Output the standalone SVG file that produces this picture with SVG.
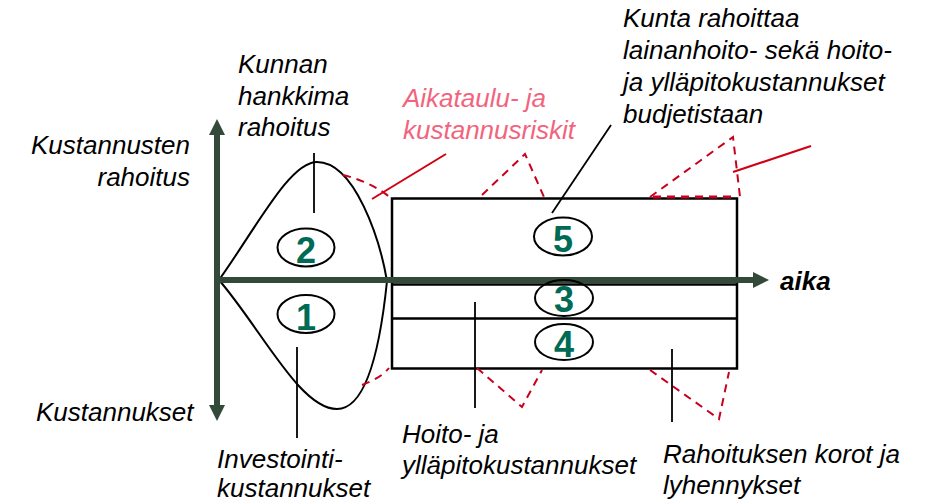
<svg xmlns="http://www.w3.org/2000/svg" width="935" height="503" viewBox="0 0 935 503">
<style>
  .lbl { font-family: "Liberation Sans", Arial, sans-serif; font-style: italic; font-size: 26px; fill: #000; }
  .risk { fill: #F2647D; }
  .num { font-family: "Liberation Sans", Arial, sans-serif; font-weight: bold; font-size: 36px; fill: #006B55; text-anchor: middle; }
  .oval { fill: none; stroke: #000; stroke-width: 2; }
  .axis { stroke: #33493A; stroke-width: 6; fill: none; }
  .edge { stroke: #000; stroke-width: 2.5; fill: none; }
  .lead { stroke: #000; stroke-width: 1.8; fill: none; }
  .dash { stroke: #C8001E; stroke-width: 2; fill: none; stroke-dasharray: 8 6; }
  .rline { stroke: #D00010; stroke-width: 2; fill: none; }
  .lens { stroke: #000; stroke-width: 2; fill: none; }
</style>
<defs>
  <marker id="ah" markerUnits="userSpaceOnUse" markerWidth="16" markerHeight="16" refX="0" refY="8" orient="auto-start-reverse">
    <path d="M0,0 L16,8 L0,16 z" fill="#33493A"/>
  </marker>
</defs>
<rect width="935" height="503" fill="#fff"/>

<g id="lens">
  <path class="lens" d="M219,280 C258,225 290,162 317,162 C355,162 380,240 387,281"/>
  <path class="lens" d="M219,280 C262,330 300,409 337,409 C370,409 382,330 387,281"/>
</g>

<g id="cost-block">
  <rect class="edge" x="392" y="198.5" width="345" height="170"/>
  <line class="edge" x1="392" y1="284.5" x2="737" y2="284.5"/>
  <line class="edge" x1="392" y1="318.5" x2="737" y2="318.5"/>
</g>

<g id="risks">
  <path class="dash" d="M343,175 Q372,182 392,199"/>
  <path class="dash" d="M362,385 Q381,378 389,368"/>
  <path class="dash" d="M482,195 L525,154 L544,197"/>
  <path class="dash" d="M477,368 L522,407 L542,370"/>
  <path class="dash" d="M650,197 L733,137 L740,197"/>
  <path class="dash" d="M653,197 L737,197" style="stroke-width:3"/>
  <path class="dash" d="M650,370 L719,419 L729,372"/>
</g>

<g id="axes">
  <line class="axis" x1="217" y1="135" x2="217" y2="405" marker-start="url(#ah)" marker-end="url(#ah)"/>
  <line class="axis" x1="217" y1="280" x2="753" y2="280" marker-end="url(#ah)"/>
</g>

<g id="node-2"><ellipse class="oval" cx="306" cy="247.5" rx="28.5" ry="19"/><text class="num" x="306" y="262.5">2</text></g>
<g id="node-1"><ellipse class="oval" cx="306" cy="314" rx="28.5" ry="19"/><text class="num" x="306" y="330">1</text></g>
<g id="node-5"><ellipse class="oval" cx="563" cy="236.5" rx="29" ry="19"/><text class="num" x="563" y="251.5">5</text></g>
<g id="node-3"><ellipse class="oval" cx="564" cy="298" rx="29" ry="18"/><text class="num" x="564" y="311.5">3</text></g>
<g id="node-4"><ellipse class="oval" cx="564" cy="342" rx="29" ry="18"/><text class="num" x="564" y="357">4</text></g>

<g id="connectors">
  <line class="lead" x1="314" y1="153" x2="314" y2="213"/>
  <line class="lead" x1="297" y1="347" x2="297" y2="438"/>
  <line class="lead" x1="475" y1="302" x2="475" y2="408"/>
  <line class="lead" x1="552" y1="213" x2="611" y2="125"/>
  <line class="lead" x1="672" y1="349" x2="672" y2="422"/>
  <line class="rline" x1="372" y1="199" x2="446" y2="154"/>
  <line class="rline" x1="733" y1="172" x2="811" y2="146"/>
</g>

<g id="label-kunnan">
  <text class="lbl" x="238" y="73">Kunnan</text>
  <text class="lbl" x="238" y="105">hankkima</text>
  <text class="lbl" x="238" y="136">rahoitus</text>
</g>
<g id="label-rahoitus">
  <text class="lbl" x="190" y="154" text-anchor="end">Kustannusten</text>
  <text class="lbl" x="190" y="186" text-anchor="end">rahoitus</text>
</g>
<g id="label-riskit">
  <text class="lbl risk" x="403" y="107">Aikataulu- ja</text>
  <text class="lbl risk" x="403" y="139">kustannusriskit</text>
</g>
<g id="label-kunta">
  <text class="lbl" x="623" y="27">Kunta rahoittaa</text>
  <text class="lbl" x="623" y="59">lainanhoito- sekä hoito-</text>
  <text class="lbl" x="623" y="91">ja ylläpitokustannukset</text>
  <text class="lbl" x="623" y="123">budjetistaan</text>
</g>
<g id="label-aika">
  <text class="lbl" x="780" y="290" style="font-weight:bold">aika</text>
</g>
<g id="label-kustannukset">
  <text class="lbl" x="36" y="421">Kustannukset</text>
</g>
<g id="label-investointi">
  <text class="lbl" x="217" y="468">Investointi-</text>
  <text class="lbl" x="217" y="497">kustannukset</text>
</g>
<g id="label-hoito">
  <text class="lbl" x="402" y="443">Hoito- ja</text>
  <text class="lbl" x="402" y="474">ylläpitokustannukset</text>
</g>
<g id="label-korot">
  <text class="lbl" x="663" y="463">Rahoituksen korot ja</text>
  <text class="lbl" x="663" y="494">lyhennykset</text>
</g>
</svg>
